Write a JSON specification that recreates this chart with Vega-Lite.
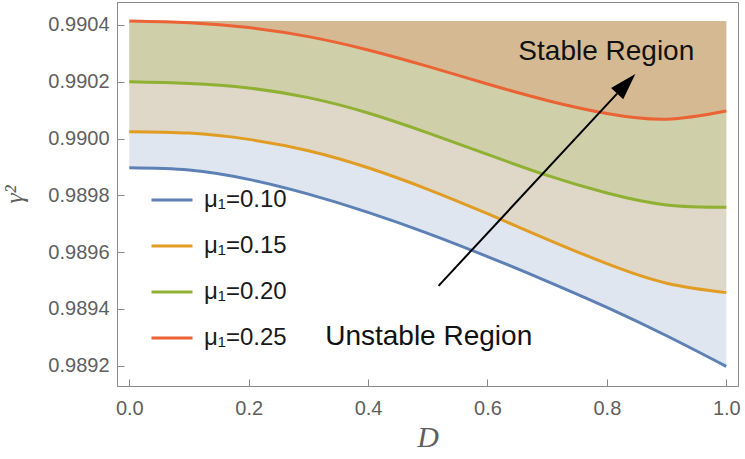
{
  "$schema": "https://vega.github.io/schema/vega-lite/v6.json",
  "width": 621,
  "height": 384,
  "autosize": {"type": "none"},
  "padding": {"left": 117, "top": 2, "right": 7, "bottom": 73},
  "background": "white",
  "config": {
    "view": {"stroke": "#8a8a8a"},
    "axis": {"grid": false, "labelOverlap": false}
  },
  "data": {"values": [
      {"D": 0.0, "g": 0.989897, "mu": "μ₁=0.10"},
      {"D": 0.1, "g": 0.989889, "mu": "μ₁=0.10"},
      {"D": 0.2, "g": 0.989856, "mu": "μ₁=0.10"},
      {"D": 0.3, "g": 0.989804, "mu": "μ₁=0.10"},
      {"D": 0.4, "g": 0.989740, "mu": "μ₁=0.10"},
      {"D": 0.5, "g": 0.989666, "mu": "μ₁=0.10"},
      {"D": 0.6, "g": 0.989584, "mu": "μ₁=0.10"},
      {"D": 0.7, "g": 0.989497, "mu": "μ₁=0.10"},
      {"D": 0.8, "g": 0.989405, "mu": "μ₁=0.10"},
      {"D": 0.9, "g": 0.989305, "mu": "μ₁=0.10"},
      {"D": 1.0, "g": 0.989197, "mu": "μ₁=0.10"},
      {"D": 0.0, "g": 0.990024, "mu": "μ₁=0.15"},
      {"D": 0.1, "g": 0.990019, "mu": "μ₁=0.15"},
      {"D": 0.2, "g": 0.989997, "mu": "μ₁=0.15"},
      {"D": 0.3, "g": 0.989957, "mu": "μ₁=0.15"},
      {"D": 0.4, "g": 0.989897, "mu": "μ₁=0.15"},
      {"D": 0.5, "g": 0.989821, "mu": "μ₁=0.15"},
      {"D": 0.6, "g": 0.989735, "mu": "μ₁=0.15"},
      {"D": 0.7, "g": 0.989645, "mu": "μ₁=0.15"},
      {"D": 0.8, "g": 0.989559, "mu": "μ₁=0.15"},
      {"D": 0.9, "g": 0.989490, "mu": "μ₁=0.15"},
      {"D": 1.0, "g": 0.989457, "mu": "μ₁=0.15"},
      {"D": 0.0, "g": 0.990200, "mu": "μ₁=0.20"},
      {"D": 0.1, "g": 0.990194, "mu": "μ₁=0.20"},
      {"D": 0.2, "g": 0.990178, "mu": "μ₁=0.20"},
      {"D": 0.3, "g": 0.990144, "mu": "μ₁=0.20"},
      {"D": 0.4, "g": 0.990090, "mu": "μ₁=0.20"},
      {"D": 0.5, "g": 0.990020, "mu": "μ₁=0.20"},
      {"D": 0.6, "g": 0.989944, "mu": "μ₁=0.20"},
      {"D": 0.7, "g": 0.989870, "mu": "μ₁=0.20"},
      {"D": 0.8, "g": 0.989808, "mu": "μ₁=0.20"},
      {"D": 0.9, "g": 0.989766, "mu": "μ₁=0.20"},
      {"D": 1.0, "g": 0.989758, "mu": "μ₁=0.20"},
      {"D": 0.0, "g": 0.990414, "mu": "μ₁=0.25"},
      {"D": 0.1, "g": 0.990408, "mu": "μ₁=0.25"},
      {"D": 0.2, "g": 0.990391, "mu": "μ₁=0.25"},
      {"D": 0.3, "g": 0.990359, "mu": "μ₁=0.25"},
      {"D": 0.4, "g": 0.990312, "mu": "μ₁=0.25"},
      {"D": 0.5, "g": 0.990254, "mu": "μ₁=0.25"},
      {"D": 0.6, "g": 0.990192, "mu": "μ₁=0.25"},
      {"D": 0.7, "g": 0.990134, "mu": "μ₁=0.25"},
      {"D": 0.8, "g": 0.990088, "mu": "μ₁=0.25"},
      {"D": 0.9, "g": 0.990068, "mu": "μ₁=0.25"},
      {"D": 1.0, "g": 0.990097, "mu": "μ₁=0.25"}
  ]},
  "layer": [
    {
      "transform": [{"filter": "datum.mu === 'μ₁=0.10'"}],
      "mark": {"type": "area", "opacity": 0.2, "color": "#5E81B5", "interpolate": "natural"},
      "encoding": {
        "x": {"field": "D", "type": "quantitative",
          "scale": {"domain": [-0.0206, 1.0196], "nice": false, "zero": false},
          "axis": {
            "title": "D", "titleFont": "Liberation Serif", "titleFontStyle": "italic", "titleFontWeight": "normal",
            "titleFontSize": 30, "titleColor": "#5f5f5f", "titlePadding": 4,
            "labelFont": "Liberation Sans", "labelFontSize": 20, "labelColor": "#5f5f5f",
            "domainColor": "#8a8a8a", "tickColor": "#8a8a8a", "tickSize": -7, "labelPadding": 19,
            "values": [0, 0.2, 0.4, 0.6, 0.8, 1.0], "format": ".1f", "labelFlush": false
          }
        },
        "y": {"field": "g", "type": "quantitative",
          "scale": {"domain": [0.989128, 0.990481], "nice": false, "zero": false},
          "axis": {
            "title": "γ²", "titleFont": "Liberation Serif", "titleFontStyle": "italic", "titleFontWeight": "normal",
            "titleFontSize": 26, "titleColor": "#5f5f5f", "titlePadding": 20,
            "labelFont": "Liberation Sans", "labelFontSize": 20, "labelColor": "#5f5f5f",
            "domainColor": "#8a8a8a", "tickColor": "#8a8a8a", "tickSize": -7, "labelPadding": 15,
            "values": [0.9892, 0.9894, 0.9896, 0.9898, 0.99, 0.9902, 0.9904], "format": ".4f", "labelFlush": false
          }
        },
        "y2": {"datum": 0.990414}
      }
    },
    {
      "transform": [{"filter": "datum.mu === 'μ₁=0.15'"}],
      "mark": {"type": "area", "opacity": 0.2, "color": "#E19C24", "interpolate": "natural"},
      "encoding": {
        "x": {"field": "D", "type": "quantitative"},
        "y": {"field": "g", "type": "quantitative"},
        "y2": {"datum": 0.990414}
      }
    },
    {
      "transform": [{"filter": "datum.mu === 'μ₁=0.20'"}],
      "mark": {"type": "area", "opacity": 0.2, "color": "#8FB032", "interpolate": "natural"},
      "encoding": {
        "x": {"field": "D", "type": "quantitative"},
        "y": {"field": "g", "type": "quantitative"},
        "y2": {"datum": 0.990414}
      }
    },
    {
      "transform": [{"filter": "datum.mu === 'μ₁=0.25'"}],
      "mark": {"type": "area", "opacity": 0.2, "color": "#EB6235", "interpolate": "natural"},
      "encoding": {
        "x": {"field": "D", "type": "quantitative"},
        "y": {"field": "g", "type": "quantitative"},
        "y2": {"datum": 0.990414}
      }
    },
    {
      "mark": {"type": "line", "strokeWidth": 3, "interpolate": "natural"},
      "encoding": {
        "x": {"field": "D", "type": "quantitative"},
        "y": {"field": "g", "type": "quantitative"},
        "color": {"field": "mu", "type": "nominal",
          "scale": {"domain": ["μ₁=0.10", "μ₁=0.15", "μ₁=0.20", "μ₁=0.25"], "range": ["#5E81B5", "#E19C24", "#8FB032", "#EB6235"]},
          "legend": {
            "orient": "none", "legendX": 33, "legendY": 176, "title": null,
            "symbolType": "stroke", "symbolSize": 1681, "symbolStrokeWidth": 3, "symbolOpacity": 1,
            "labelFont": "Liberation Sans", "labelFontSize": 24, "labelColor": "#1a1a1a",
            "labelOffset": 10, "rowPadding": 12, "padding": 0
          }
        }
      }
    },
    {
      "data": {"values": [{"label": "Stable Region"}]},
      "mark": {"type": "text", "fontSize": 28, "font": "Liberation Sans", "color": "#111111", "align": "center", "baseline": "alphabetic"},
      "encoding": {"x": {"datum": 0.799}, "y": {"datum": 0.990277}, "text": {"field": "label"}}
    },
    {
      "data": {"values": [{"label": "Unstable Region"}]},
      "mark": {"type": "text", "fontSize": 28, "font": "Liberation Sans", "color": "#111111", "align": "center", "baseline": "alphabetic"},
      "encoding": {"x": {"datum": 0.5015}, "y": {"datum": 0.989273}, "text": {"field": "label"}}
    },
    {
      "data": {"values": [{"a": 1}]},
      "mark": {"type": "rule", "color": "#000000", "strokeWidth": 2},
      "encoding": {
        "x": {"datum": 0.518}, "y": {"datum": 0.989481},
        "x2": {"datum": 0.8171}, "y2": {"datum": 0.990158}
      }
    },
    {
      "data": {"values": [{"a": 1}]},
      "mark": {"type": "point", "shape": "M0,0L-0.31,1L0.31,1Z", "size": 2852, "filled": true, "color": "#000000", "opacity": 1, "angle": 42.9, "strokeWidth": 0},
      "encoding": {"x": {"datum": 0.8476}, "y": {"datum": 0.990227}}
    }
  ]
}
